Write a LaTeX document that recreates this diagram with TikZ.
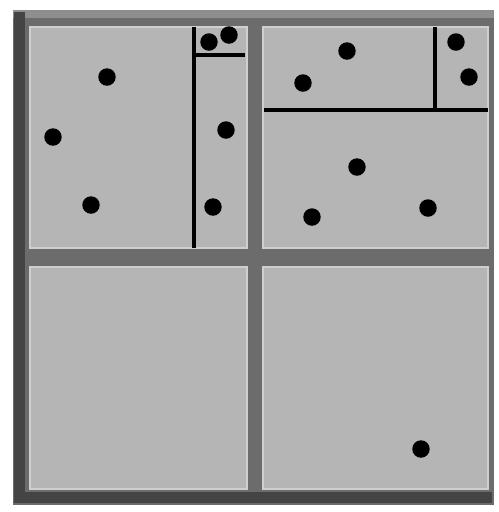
\documentclass[tikz,border=0pt]{standalone}
\usepackage{tikz}
\definecolor{framegray}{HTML}{6C6C6C}
\definecolor{shadegray}{HTML}{444444}
\definecolor{toplight}{HTML}{8E8E8E}
\definecolor{cellfill}{HTML}{B5B5B5}
\definecolor{cellrim} {HTML}{CFCFCF}
\tikzset{
  cellbox/.style  ={fill=cellfill, draw=cellrim, line width=1.1pt},
  splitline/.style={draw=black, line width=2.3pt},
  pointdot/.style ={fill=black},
}

\begin{document}
\begin{tikzpicture}[x=0.02cm,y=-0.02cm]
    \useasboundingbox (0,0) rectangle (499,512);

    % Outer frame with shading
    \fill[framegray] (13,10) rectangle (494,505);
    \fill[toplight]  (13,10) rectangle (494,18);
    \fill[shadegray] (14,12) rectangle (25,503);
    \fill[shadegray] (14,492) rectangle (492,503);

    % Four quadrants
    \draw[cellbox] (30,27)  rectangle (247,248);
    \draw[cellbox] (263,27) rectangle (488,248);
    \draw[cellbox] (30,267) rectangle (247,489);
    \draw[cellbox] (263,267) rectangle (488,489);

    % Subdivisions
    \draw[splitline] (194,27) -- (194,248);
    \draw[splitline] (194,55) -- (245,55);
    \draw[splitline] (264,110) -- (488,110);
    \draw[splitline] (435,27) -- (435,110);

    % Points
    \foreach \px/\py in {107/77, 53/137, 91/205, 209/42, 229/35, 226/130, 213/207,
                         347/51, 303/83, 456/42, 469/77, 357/167, 312/217, 428/208,
                         421/449}
      \fill[pointdot] (\px,\py) circle[radius=0.175cm];
\end{tikzpicture}
\end{document}
